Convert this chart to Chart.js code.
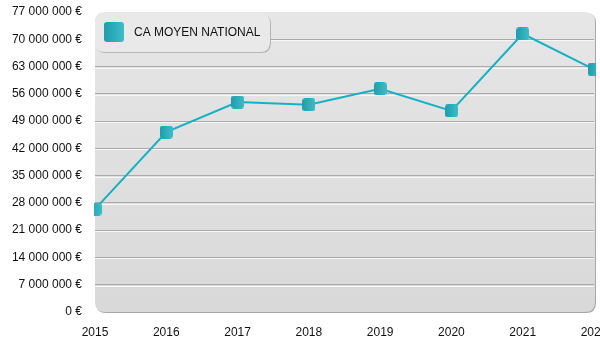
<!DOCTYPE html>
<html>
<head>
<meta charset="utf-8">
<script src="https://cdn.jsdelivr.net/npm/chart.js@4/dist/chart.umd.min.js"></script>
<style>
  html, body { margin: 0; padding: 0; background: #fff; }
</style>
</head>
<body>
<canvas id="caChart" width="600" height="350"></canvas>
<script>
// Données
const annees = ['2015', '2016', '2017', '2018', '2019', '2020', '2021', '2022'];
const caMoyen = [26400000, 46200000, 53900000, 53200000, 57300000, 51600000, 71400000, 62300000];
const serieLabel = 'CA MOYEN NATIONAL';
const yMax = 77000000;
const yPas = 7000000;

const police = "'Liberation Sans', Arial, sans-serif";

// 77000000 -> "77 000 000 €"
function formatEuro(v) {
  return String(v).replace(/\B(?=(\d{3})+(?!\d))/g, ' ') + ' €';
}

function rectArrondi(ctx, x, y, w, h, r) {
  ctx.beginPath();
  ctx.moveTo(x + r, y);
  ctx.lineTo(x + w - r, y);
  ctx.quadraticCurveTo(x + w, y, x + w, y + r);
  ctx.lineTo(x + w, y + h - r);
  ctx.quadraticCurveTo(x + w, y + h, x + w - r, y + h);
  ctx.lineTo(x + r, y + h);
  ctx.quadraticCurveTo(x, y + h, x, y + h - r);
  ctx.lineTo(x, y + r);
  ctx.quadraticCurveTo(x, y, x + r, y);
  ctx.closePath();
}

function degradeTurquoise(ctx, x, w) {
  const g = ctx.createLinearGradient(x, 0, x + w, 0);
  g.addColorStop(0, '#1f9dad');
  g.addColorStop(1, '#3dbcc8');
  return g;
}

// marqueur carré arrondi avec dégradé
function creerMarqueur(taille) {
  const c = document.createElement('canvas');
  c.width = taille;
  c.height = taille;
  const cx = c.getContext('2d');
  rectArrondi(cx, 0, 0, taille, taille, 3);
  cx.fillStyle = degradeTurquoise(cx, 0, taille);
  cx.fill();
  return c;
}
const marqueur = creerMarqueur(13);

// fond gris arrondi de la zone de tracé
const fondPlugin = {
  id: 'fond',
  beforeDraw(chart) {
    const { ctx, chartArea: a } = chart;
    const w = a.right - a.left + 1;
    const h = a.bottom - a.top;
    ctx.save();
    rectArrondi(ctx, a.left + 1, a.top + 1, w, h, 10);
    ctx.fillStyle = '#a8a8a8';
    ctx.fill();
    rectArrondi(ctx, a.left, a.top, w, h, 10);
    const g = ctx.createLinearGradient(0, a.top, 0, a.bottom);
    g.addColorStop(0, '#e6e6e6');
    g.addColorStop(1, '#d9d9d9');
    ctx.fillStyle = g;
    ctx.fill();
    ctx.restore();
  },
  beforeDatasetsDraw(chart) {
    // liseré blanc sous chaque ligne de grille
    const { ctx, chartArea: a, scales } = chart;
    const y = scales.y;
    ctx.save();
    ctx.strokeStyle = '#f7f7f7';
    ctx.lineWidth = 1;
    y.ticks.forEach((t) => {
      if (t.value <= 0 || t.value >= yMax) return;
      const py = Math.round(y.getPixelForValue(t.value)) + 1.5;
      ctx.beginPath();
      ctx.moveTo(a.left, py);
      ctx.lineTo(a.right, py);
      ctx.stroke();
    });
    ctx.restore();
  }
};

// légende dans le coin haut gauche
const legendePlugin = {
  id: 'legendeCA',
  afterDatasetsDraw(chart) {
    const { ctx, chartArea: a } = chart;
    const x = a.left, y = a.top + 1, w = 175, h = 39;
    ctx.save();
    rectArrondi(ctx, x + 1, y + 1, w, h, 10);
    ctx.fillStyle = '#b4b4b4';
    ctx.fill();
    rectArrondi(ctx, x, y, w, h, 10);
    ctx.fillStyle = '#e9e9e9';
    ctx.fill();
    rectArrondi(ctx, x + 9, y + 9, 20, 20, 3);
    ctx.fillStyle = degradeTurquoise(ctx, x + 9, 20);
    ctx.fill();
    ctx.fillStyle = '#111';
    ctx.font = '12px ' + police;
    ctx.textBaseline = 'middle';
    ctx.fillText(chart.data.datasets[0].label, x + 39, y + 20);
    ctx.restore();
  }
};

new Chart(document.getElementById('caChart'), {
  type: 'line',
  data: {
    labels: annees,
    datasets: [{
      label: serieLabel,
      data: caMoyen,
      borderColor: '#14b1c4',
      borderWidth: 2,
      tension: 0,
      pointStyle: marqueur,
      pointRadius: 7,
      pointHoverRadius: 7,
      clip: { left: 1, right: 2, top: false, bottom: false }
    }]
  },
  options: {
    responsive: false,
    devicePixelRatio: 1,
    animation: false,
    layout: {
      autoPadding: false,
      padding: { top: 12, right: 6, bottom: 0, left: 0 }
    },
    plugins: {
      legend: { display: false },
      tooltip: { enabled: false }
    },
    scales: {
      x: {
        grid: { display: false, drawTicks: false },
        border: { display: false },
        ticks: {
          padding: 13,
          color: '#111',
          font: { family: police, size: 12 }
        },
        afterFit(scale) {
          scale.height = 38;
          scale.paddingLeft = 0;
          scale.paddingRight = 0;
        }
      },
      y: {
        min: 0,
        max: yMax,
        grid: {
          drawTicks: false,
          color: (c) => (c.tick.value <= 0 || c.tick.value >= yMax) ? 'rgba(0,0,0,0)' : '#a9a9a9'
        },
        border: { display: false },
        ticks: {
          stepSize: yPas,
          padding: 13,
          color: '#111',
          font: { family: police, size: 12 },
          callback: (v) => formatEuro(v)
        },
        afterFit(scale) {
          scale.width = 95;
          scale.paddingTop = 0;
          scale.paddingBottom = 0;
        }
      }
    }
  },
  plugins: [fondPlugin, legendePlugin]
});
</script>
</body>
</html>
